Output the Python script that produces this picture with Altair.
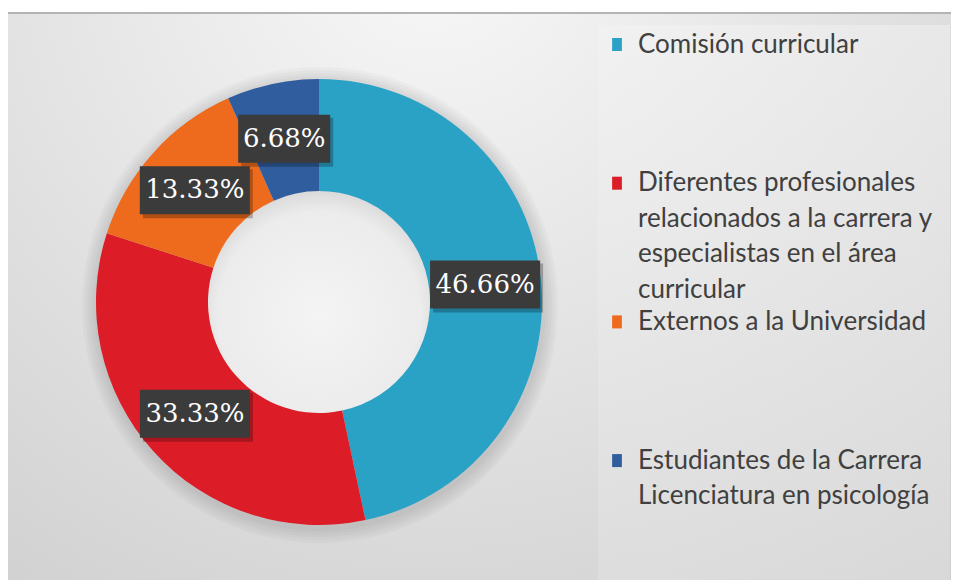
import altair as alt
import pandas as pd

# ---- data ----
categories = [
    "Comisión curricular",
    "Diferentes profesionales relacionados a la carrera y especialistas en el área curricular",
    "Externos a la Universidad",
    "Estudiantes de la Carrera Licenciatura en psicología",
]
legend_labels = [
    ["Comisión curricular"],
    ["Diferentes profesionales", "relacionados a la carrera y", "especialistas en el área", "curricular"],
    ["Externos a la Universidad"],
    ["Estudiantes de la Carrera", "Licenciatura en psicología"],
]
values = [46.66, 33.33, 13.33, 6.68]
colors = ["#2AA2C6", "#DC1D27", "#EE6A1C", "#2F5D9E"]

# ---- layout (plot coordinates, px) ----
W, H = 943, 572
CX, CY = 311, 294
R_OUT, R_IN = 223, 111
R_LBL = 167
LEG_SQ_X, LEG_TXT_X = 609, 630
LEG_Y0, LEG_SLOT, LEG_LH = 36.5, 138.7, 35.5

df = pd.DataFrame({"cat": categories, "value": values, "idx": list(range(len(values)))})

rows = []
for i, lines in enumerate(legend_labels):
    for j, line in enumerate(lines):
        rows.append({"cat": categories[i], "line": line, "i": i, "j": j})
leg = pd.DataFrame(rows)
leg["ly"] = LEG_Y0 + LEG_SLOT * leg["i"] + LEG_LH * leg["j"]
leg_first = leg[leg["j"] == 0]

one = pd.DataFrame({"a": [0]})

color_scale = alt.Scale(domain=categories, range=colors)

bg = alt.Chart(one).mark_rect(
    fill={
        "gradient": "radial",
        "x1": 0.45, "y1": 0.12, "r1": 0.0,
        "x2": 0.45, "y2": 0.12, "r2": 0.95,
        "stops": [
            {"offset": 0.0, "color": "#f8f8f8"},
            {"offset": 0.45, "color": "#e4e4e4"},
            {"offset": 1.0, "color": "#cbcbcb"},
        ],
    }
).encode(x=alt.value(0), x2=alt.value(W), y=alt.value(5), y2=alt.value(H))

top_line = alt.Chart(one).mark_rule(color="#b4b4b4", strokeWidth=2).encode(
    x=alt.value(0), x2=alt.value(W), y=alt.value(5)
)

leg_panel = alt.Chart(one).mark_rect(
    fill={
        "gradient": "linear",
        "x1": 0, "y1": 0, "x2": 0, "y2": 1,
        "stops": [
            {"offset": 0.0, "color": "#f4f4f4"},
            {"offset": 1.0, "color": "#e4e4e4"},
        ],
    },
    opacity=0.45,
).encode(x=alt.value(590), x2=alt.value(942), y=alt.value(17), y2=alt.value(H))

base = alt.Chart(df)

theta = alt.Theta("value:Q", stack=True)
order = alt.Order("idx:Q")

hole = alt.Chart(one).mark_arc(
    outerRadius=R_IN + 2, innerRadius=0,
    fill={
        "gradient": "radial",
        "x1": 0.5, "y1": 0.55, "r1": 0.0,
        "x2": 0.5, "y2": 0.55, "r2": 0.6,
        "stops": [
            {"offset": 0.0, "color": "#f4f4f4"},
            {"offset": 0.75, "color": "#ececec"},
            {"offset": 1.0, "color": "#cfcfcf"},
        ],
    },
).encode(x=alt.value(CX), y=alt.value(CY))

shadows = [
    base.mark_arc(outerRadius=R_OUT + k * 3, innerRadius=R_IN, color="black", opacity=0.022).encode(
        theta=theta, order=order, x=alt.value(CX + 1), y=alt.value(CY + 3)
    )
    for k in (1, 2, 3, 4, 5)
]

donut = base.mark_arc(outerRadius=R_OUT, innerRadius=R_IN).encode(
    theta=theta,
    order=order,
    color=alt.Color("cat:N", scale=color_scale, legend=None),
    x=alt.value(CX),
    y=alt.value(CY),
)

lbl = base.transform_joinaggregate(total="sum(value)").transform_window(
    cum="sum(value)", sort=[alt.SortField("idx")], frame=[None, 0]
).transform_calculate(
    ang="2*PI*(datum.cum - datum.value/2)/datum.total",
    lx=f"{CX} + {R_LBL}*sin(datum.ang)",
    ly=f"{CY} - {R_LBL}*cos(datum.ang)",
    label="format(datum.value, '.2f') + '%'",
    bw="18*length(datum.label) + 2",
    bx1="datum.lx - datum.bw/2",
    bx2="datum.lx + datum.bw/2",
    by1="datum.ly - 24",
    by2="datum.ly + 24",
    sx1="datum.bx1 + 3",
    sx2="datum.bx2 + 3",
    sy1="datum.by1 + 3",
    sy2="datum.by2 + 4",
)

box_shadow = lbl.mark_rect(color="black", opacity=0.25).encode(
    x=alt.X("sx1:Q", scale=None, axis=None), x2="sx2:Q",
    y=alt.Y("sy1:Q", scale=None, axis=None), y2="sy2:Q",
)
box = lbl.mark_rect(color="#3b3b3b").encode(
    x=alt.X("bx1:Q", scale=None, axis=None), x2="bx2:Q",
    y=alt.Y("by1:Q", scale=None, axis=None), y2="by2:Q",
)
txt = lbl.mark_text(font="DejaVu Serif", fontSize=26, color="white", baseline="middle", align="center").encode(
    x=alt.X("lx:Q", scale=None, axis=None),
    y=alt.Y("ly:Q", scale=None, axis=None),
    text="label:N",
)

leg_sq = alt.Chart(leg_first).mark_point(
    shape="M-0.75,-1L0.75,-1L0.75,1L-0.75,1Z", filled=True, opacity=1, size=169
).encode(
    x=alt.value(LEG_SQ_X),
    y=alt.Y("ly:Q", scale=None, axis=None),
    color=alt.Color("cat:N", scale=color_scale, legend=None),
)
leg_txt = alt.Chart(leg).mark_text(
    font="Lato", fontSize=26, color="#404040", align="left", baseline="middle"
).encode(
    x=alt.value(LEG_TXT_X),
    y=alt.Y("ly:Q", scale=None, axis=None),
    text="line:N",
)

chart = alt.layer(
    bg, top_line, leg_panel, *shadows, hole, donut, box_shadow, box, txt, leg_sq, leg_txt
).properties(
    width=W, height=H, padding=0, autosize=alt.AutoSizeParams(type="none"), background="white"
).configure_view(stroke=None)

chart.save("out.html", embed_options={"renderer": "svg", "actions": False})
